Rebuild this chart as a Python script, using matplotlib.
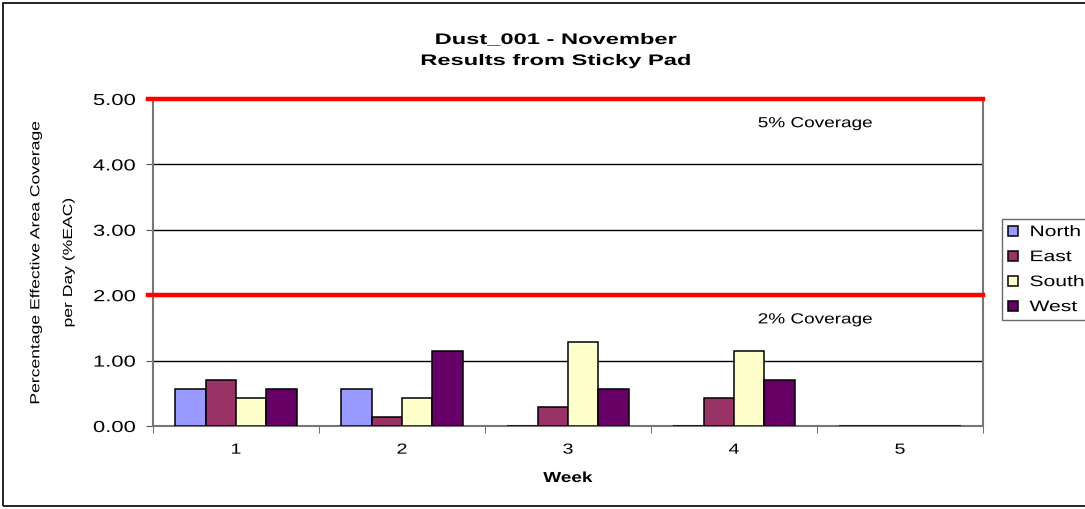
import numpy as np
import matplotlib
matplotlib.use("Agg")
import matplotlib.pyplot as plt
from matplotlib.patches import Rectangle
from matplotlib.patheffects import AbstractPathEffect
from matplotlib.transforms import Affine2D

plt.rcParams["font.family"] = ["Liberation Sans", "DejaVu Sans"]

# ── 데이터 ──────────────────────────────────────
weeks = ["1", "2", "3", "4", "5"]
north = [0.57, 0.57, 0.0, 0.0, 0.0]
east = [0.71, 0.14, 0.29, 0.43, 0.0]
south = [0.43, 0.43, 1.29, 1.14, 0.0]
west = [0.57, 1.14, 0.57, 0.71, 0.0]
series_names = ["North", "East", "South", "West"]
series_colors = ["#9999FF", "#993366", "#FFFFCC", "#660066"]
limits = [5.0, 2.0]
limit_labels = ["5% Coverage", "2% Coverage"]


# 엑셀식 넓은 글자폭 흉내 (글자 방향으로 늘리기)
class Stretch(AbstractPathEffect):
    def __init__(self, sx, anchor="center"):
        super().__init__()
        self.sx = sx
        self.anchor = anchor

    def draw_path(self, renderer, gc, tpath, affine, rgbFace=None):
        ext = tpath.get_extents()
        if self.anchor == "left":
            cx = 0.0
        elif self.anchor == "right":
            cx = ext.x1
        else:
            cx = (ext.x0 + ext.x1) / 2
        st = Affine2D().translate(-cx, 0).scale(self.sx, 1).translate(cx, 0)
        renderer.draw_path(gc, tpath, st + affine, rgbFace)


W, H = 1085, 509
fig = plt.figure(figsize=(W / 100, H / 100), dpi=100)
ax = fig.add_axes([153 / W, 1 - 426 / H, (983 - 153) / W, (426 - 99) / H])

# 외곽 테두리
fig.patches.append(Rectangle((3 / W, 3 / H), 1.2, 1 - 6 / H, transform=fig.transFigure,
                             fill=False, edgecolor="black", linewidth=1.2))

x = np.arange(len(weeks))
w = 0.73 / 4
for i, (vals, name, col) in enumerate(zip([north, east, south, west], series_names, series_colors)):
    ax.bar(x + (i - 1.5) * w, vals, w, color=col, edgecolor="black", linewidth=1.1,
           label=name, zorder=3)

ax.set_xlim(-0.5, len(weeks) - 0.5)
ax.set_ylim(0, 5)
yt = [0, 1, 2, 3, 4, 5]
ax.set_yticks(yt)
ax.set_yticklabels([f"{v:.2f}" for v in yt], fontsize=11.5)
ax.set_xticks(x)
ax.set_xticklabels(weeks, fontsize=10.5)
ax.set_xticks(np.arange(-0.5, len(weeks)), minor=True)
ax.tick_params(axis="x", which="major", length=0, pad=12)
ax.tick_params(axis="x", which="minor", length=5, color="#555555")
ax.tick_params(axis="y", length=5, color="#555555", pad=7.5)
for lbl in ax.get_yticklabels():
    lbl.set_path_effects([Stretch(1.38, "right")])
for lbl in ax.get_xticklabels():
    lbl.set_path_effects([Stretch(1.35)])

ax.grid(axis="y", color="black", linewidth=1.0, zorder=1)
for s in ["left", "bottom", "right"]:
    ax.spines[s].set_color("#777777")
    ax.spines[s].set_linewidth(1.5)
ax.spines["top"].set_visible(False)

for lv, lt in zip(limits, limit_labels):
    ax.axhline(lv, xmin=-0.006, xmax=1.0, color="red", linewidth=3.2, zorder=4, clip_on=False)
    t = ax.text(3.49, lv - 0.37, lt, ha="center", va="center", fontsize=10.5)
    t.set_path_effects([Stretch(1.3)])

xl = ax.set_xlabel("Week", fontsize=10.5, fontweight="bold")
ax.xaxis.set_label_coords(0.5, -(485 - 426) / (426 - 99))
xl.set_va("bottom")
xl.set_path_effects([Stretch(1.3)])

yl = ax.set_ylabel("Percentage Effective Area Coverage\nper Day (%EAC)", fontsize=9.5,
                   linespacing=3.3)
ax.yaxis.set_label_coords(-(153 - 75) / 830, 0.5)
yl.set_path_effects([Stretch(1.33)])

for txt, yy in [("Dust_001 - November", 40), ("Results from Sticky Pad", 61)]:
    t = fig.text(556 / W, 1 - yy / H, txt, ha="center", va="center",
                 fontsize=11, fontweight="bold")
    t.set_path_effects([Stretch(1.55)])

leg = fig.legend(loc="upper left", bbox_to_anchor=(1002 / W, 1 - 219 / H, 0.2, 0), mode="expand",
                 fontsize=11, frameon=True, fancybox=False, edgecolor="#444444",
                 handlelength=0.65, handleheight=0.65, handletextpad=0.75, labelspacing=0.72,
                 borderpad=0.4, borderaxespad=0)
leg.get_frame().set_linewidth(1.0)
for t in leg.get_texts():
    t.set_path_effects([Stretch(1.38, "left")])

plt.savefig("out.png", dpi=100)
